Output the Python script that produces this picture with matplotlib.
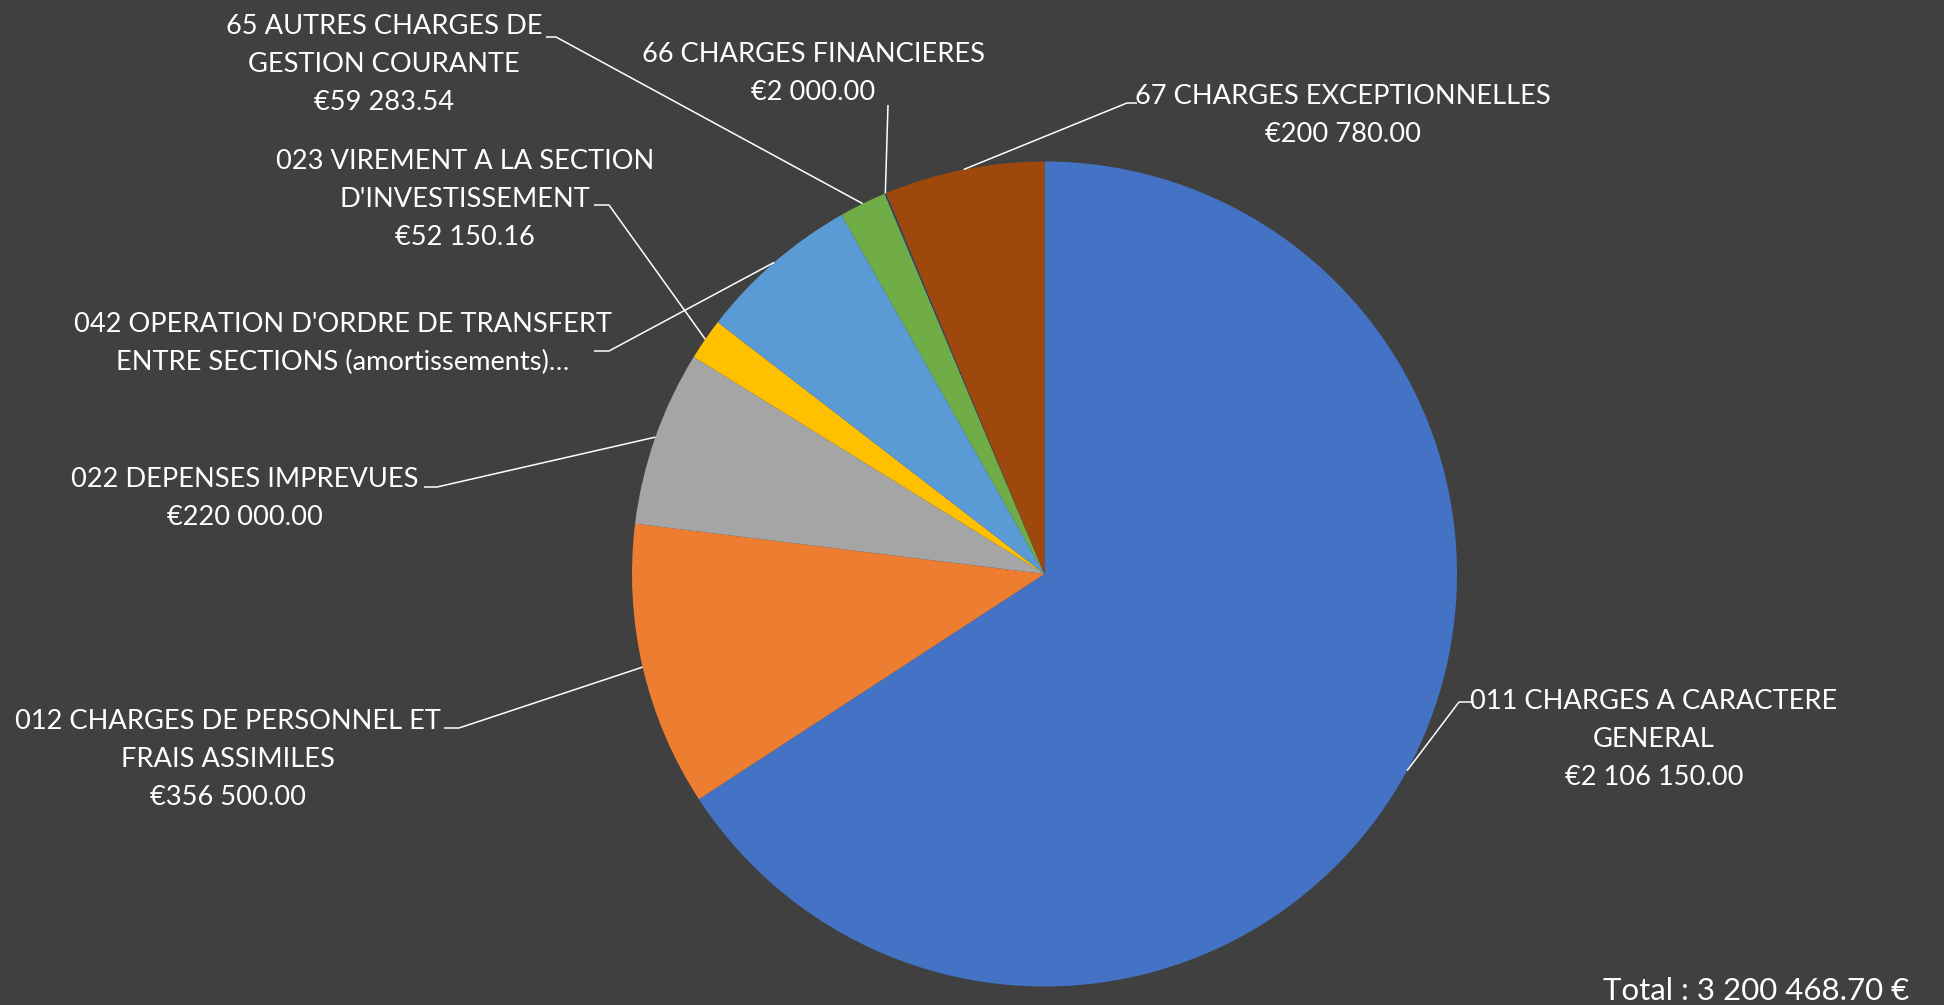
import matplotlib
matplotlib.use("Agg")
import matplotlib.pyplot as plt
import numpy as np

W, H = 1944, 1005
BG = "#404040"
FG = "#FFFFFF"
FONT = ["Lato", "DejaVu Sans"]

# ---------------- data ----------------
categories = [
    "011 CHARGES A CARACTERE GENERAL",
    "012 CHARGES DE PERSONNEL ET FRAIS ASSIMILES",
    "022 DEPENSES IMPREVUES",
    "023 VIREMENT A LA SECTION D'INVESTISSEMENT",
    "042 OPERATION D'ORDRE DE TRANSFERT ENTRE SECTIONS (amortissements)",
    "65 AUTRES CHARGES DE GESTION COURANTE",
    "66 CHARGES FINANCIERES",
    "67 CHARGES EXCEPTIONNELLES",
]
values = [2106150.00, 356500.00, 220000.00, 52150.16, 203605.00, 59283.54, 2000.00, 200780.00]
colors = ["#4472C4", "#ED7D31", "#A5A5A5", "#FFC000", "#5B9BD5", "#70AD47", "#264478", "#9E480E"]
label_lines = [
    ["011 CHARGES A CARACTERE", "GENERAL"],
    ["012 CHARGES DE PERSONNEL ET", "FRAIS ASSIMILES"],
    ["022 DEPENSES IMPREVUES"],
    ["023 VIREMENT A LA SECTION", "D'INVESTISSEMENT"],
    ["042 OPERATION D'ORDRE DE TRANSFERT", "ENTRE SECTIONS (amortissements)\u2026"],
    ["65 AUTRES CHARGES DE", "GESTION COURANTE"],
    ["66 CHARGES FINANCIERES"],
    ["67 CHARGES EXCEPTIONNELLES"],
]
show_value = [True, True, True, True, False, True, True, True]


def fmt_eur(v):
    return "\u20ac" + f"{v:,.2f}".replace(",", " ")


total_label = "Total : " + f"{sum(values):,.2f}".replace(",", " ") + " \u20ac"

# ---------------- layout (pixel coords, y from top) ----------------
PIE_C = (1044.5, 574.0)
PIE_R = 412.5
PITCH = 38.0
label_pos = [
    (1654, 699), (228, 719), (245, 477), (465, 159),
    (343, 322), (384, 24), (813, 52), (1343, 94),
]
stubs = [
    ((1472, 702), (1459, 702)),
    ((444, 728), (459, 728)),
    ((424, 487), (437, 487)),
    ((594, 205), (609, 205)),
    ((594, 351), (609, 351)),
    ((546, 37), (556, 37)),
    ((888, 105), (888, 105)),
    ((1137, 103), (1127, 103)),
]

fig = plt.figure(figsize=(W / 100, H / 100), dpi=100, facecolor=BG)
ax = fig.add_axes([0, 0, 1, 1])
ax.set_facecolor(BG)

wedges, _ = ax.pie(values, colors=colors, startangle=90, counterclock=False,
                   center=(PIE_C[0], H - PIE_C[1]), radius=PIE_R,
                   wedgeprops=dict(linewidth=0))
ax.set_xlim(0, W)
ax.set_ylim(0, H)
ax.set_aspect("equal")
ax.axis("off")

for i, w in enumerate(wedges):
    mid = np.deg2rad((w.theta1 + w.theta2) / 2)
    px = PIE_C[0] + PIE_R * np.cos(mid)
    py = (H - PIE_C[1]) + PIE_R * np.sin(mid)
    (x0, y0), (x1, y1) = stubs[i]
    ax.plot([x0, x1, px], [H - y0, H - y1, py], color=FG, lw=1.1,
            solid_capstyle="butt", zorder=3)
    lines = list(label_lines[i])
    if show_value[i]:
        lines.append(fmt_eur(values[i]))
    cx, cy = label_pos[i]
    for k, ln in enumerate(lines):
        ax.text(cx, H - (cy + k * PITCH), ln, ha="center", va="center_baseline",
                color=FG, fontsize=19.6, family=FONT, zorder=4)

ax.text(1909, H - 988, total_label, ha="right", va="center_baseline",
        color=FG, fontsize=22.5, family=FONT)

fig.savefig("out.png", dpi=100, facecolor=BG)
